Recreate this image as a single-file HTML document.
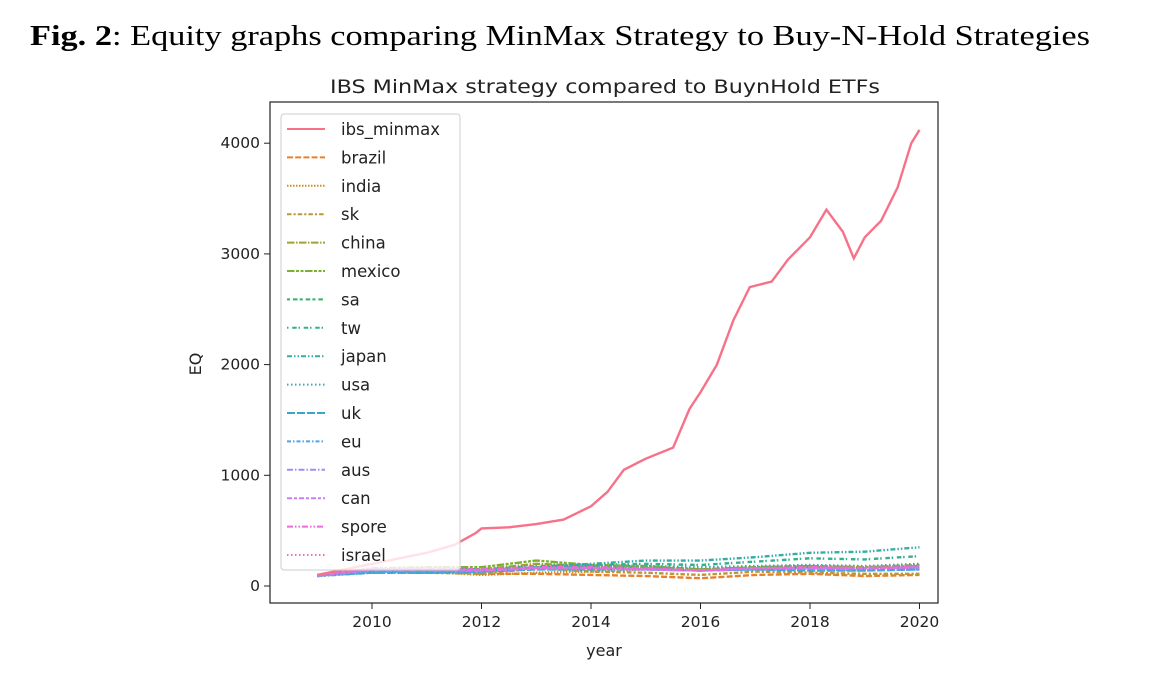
<!DOCTYPE html>
<html><head><meta charset="utf-8">
<style>
body{margin:0;background:#fff;width:1168px;height:684px;overflow:hidden;}
svg{position:absolute;left:0;top:0;}
</style></head>
<body>
<svg id="chart" width="1168" height="684" font-family="'DejaVu Sans','Liberation Sans',sans-serif">
<text x="30" y="45" font-family="'Liberation Serif',serif" font-size="28" textLength="1060" lengthAdjust="spacingAndGlyphs"><tspan font-weight="bold">Fig. 2</tspan>: Equity graphs comparing MinMax Strategy to Buy-N-Hold Strategies</text>
<text x="330" y="93" font-size="19" fill="#222" textLength="550" lengthAdjust="spacingAndGlyphs">IBS MinMax strategy compared to BuynHold ETFs</text>
<text x="604" y="656" text-anchor="middle" font-size="16" fill="#222">year</text>
<text transform="translate(201,364) rotate(-90)" text-anchor="middle" font-size="16" fill="#222">EQ</text>
<g id="plot"></g>
</svg>
<script>
const xTicks=[2010,2012,2014,2016,2018,2020];
const yTicks=[0,1000,2000,3000,4000];
const ibsYears=[2009,2009.5,2010,2010.5,2011,2011.5,2011.9,2012,2012.5,2013,2013.5,2014,2014.3,2014.6,2015,2015.5,2015.8,2016,2016.3,2016.6,2016.9,2017.3,2017.6,2018,2018.3,2018.6,2018.8,2019,2019.3,2019.6,2019.85,2020];
const ibsValues=[100,150,200,250,300,370,480,520,530,560,600,720,850,1050,1150,1250,1600,1750,2000,2400,2700,2750,2950,3150,3400,3200,2960,3150,3300,3600,4000,4120];
const etfYears=[2009,2010,2011,2012,2013,2014,2015,2016,2017,2018,2019,2020];
const seriesNames=['brazil','india','sk','china','mexico','sa','tw','japan','usa','uk','eu','aus','can','spore','israel'];
const seriesValues=[
[90,150,140,110,110,100,90,70,100,110,90,100],
[95,140,130,100,120,130,150,140,160,170,160,180],
[90,130,120,110,160,130,120,100,130,120,110,110],
[95,150,160,150,200,180,170,150,170,180,170,190],
[100,160,170,170,230,190,180,150,170,180,170,180],
[95,150,150,140,170,170,160,140,160,170,160,170],
[100,140,150,150,180,190,200,190,220,250,240,270],
[90,120,120,130,170,200,230,230,260,300,310,350],
[100,130,140,150,170,180,180,170,180,190,180,200],
[95,120,120,130,150,150,150,140,150,140,140,150],
[95,130,130,130,160,160,150,140,150,150,140,150],
[90,140,140,140,160,160,150,140,160,160,160,170],
[100,150,150,140,160,160,150,140,160,160,160,170],
[100,150,160,150,170,170,160,140,160,170,160,170],
[100,150,150,140,160,160,160,140,160,170,170,180]];
const colors=['#f77189','#e7812f','#d18b29','#bb9832','#a1a031','#7daf31','#32b165','#34af8f','#36ada4','#37abb4','#39a7c8','#51a1f4','#a38cf4','#cb7ef4','#f067de','#f46bbf'];
const dashes=['','6,2.2','1.5,1.5','4.5,2,2.2,2','7.5,1.5,1.5,1.5','7.5,1.5,3,1.5,3,1.5','3,3,4.5,2.2','1.5,3.7,4.5,1.8','5,2,1.5,2,1.5,2','1.5,2.5','8,2','4,2,1.5,2','6,2,1.5,2','5,2,3,2','6,2,1.5,2,1.5,2','1.5,2.5,1.5,2.5'];
const L=270,R=938,T=102,B=603;
const X=v=>372+(v-2010)*54.75;
const Y=v=>586-v*0.1107;
const ns='http://www.w3.org/2000/svg';
const g=document.getElementById('plot');
function mk(tag,attrs,parent){const e=document.createElementNS(ns,tag);for(const k in attrs)e.setAttribute(k,attrs[k]);(parent||g).appendChild(e);return e;}
const frame=mk('rect',{x:L,y:T,width:R-L,height:B-T,fill:'none',stroke:'#222','stroke-width':1.2});


xTicks.forEach(t=>{
 const l=mk('line',{x1:X(t),x2:X(t),y1:B,y2:B+6,stroke:'#222'});
 
 
 const tx=mk('text',{x:X(t),y:B+24,'text-anchor':'middle','font-size':15.5,fill:'#222'});tx.textContent=t;
 
 
});
yTicks.forEach(t=>{
 const l=mk('line',{x1:L-6,x2:L,y1:Y(t),y2:Y(t),stroke:'#222'});
 
 
 const tx=mk('text',{x:L-10,y:Y(t)+5,'text-anchor':'end','font-size':15.5,fill:'#222'});tx.textContent=t;
 
 
});
seriesNames.forEach((n,i)=>{
 const p=mk('polyline',{points:etfYears.map((y,j)=>X(y)+','+Y(seriesValues[i][j])).join(' '),fill:'none',stroke:colors[i+1],'stroke-width':2.4,'stroke-dasharray':dashes[i+1]});
 
 
});
const ib=mk('polyline',{points:ibsYears.map((y,j)=>X(y)+','+Y(ibsValues[j])).join(' '),fill:'none',stroke:colors[0],'stroke-width':2.4});


const lg=mk('g',{});


mk('rect',{x:281,y:114,width:179,height:456,rx:3,fill:'rgba(255,255,255,0.8)',stroke:'#ccc'},lg);
['ibs_minmax'].concat(seriesNames).forEach((n,i)=>{
 const yy=129+i*28.4;
 const e=mk('g',{},lg);
 
 
 mk('line',{x1:287,x2:325,y1:yy,y2:yy,stroke:colors[i],'stroke-width':2,'stroke-dasharray':dashes[i]},e);
 const t=mk('text',{x:341,y:yy+6,'font-size':16.5,fill:'#222'},e);t.textContent=n;
});
</script>
</body></html>
